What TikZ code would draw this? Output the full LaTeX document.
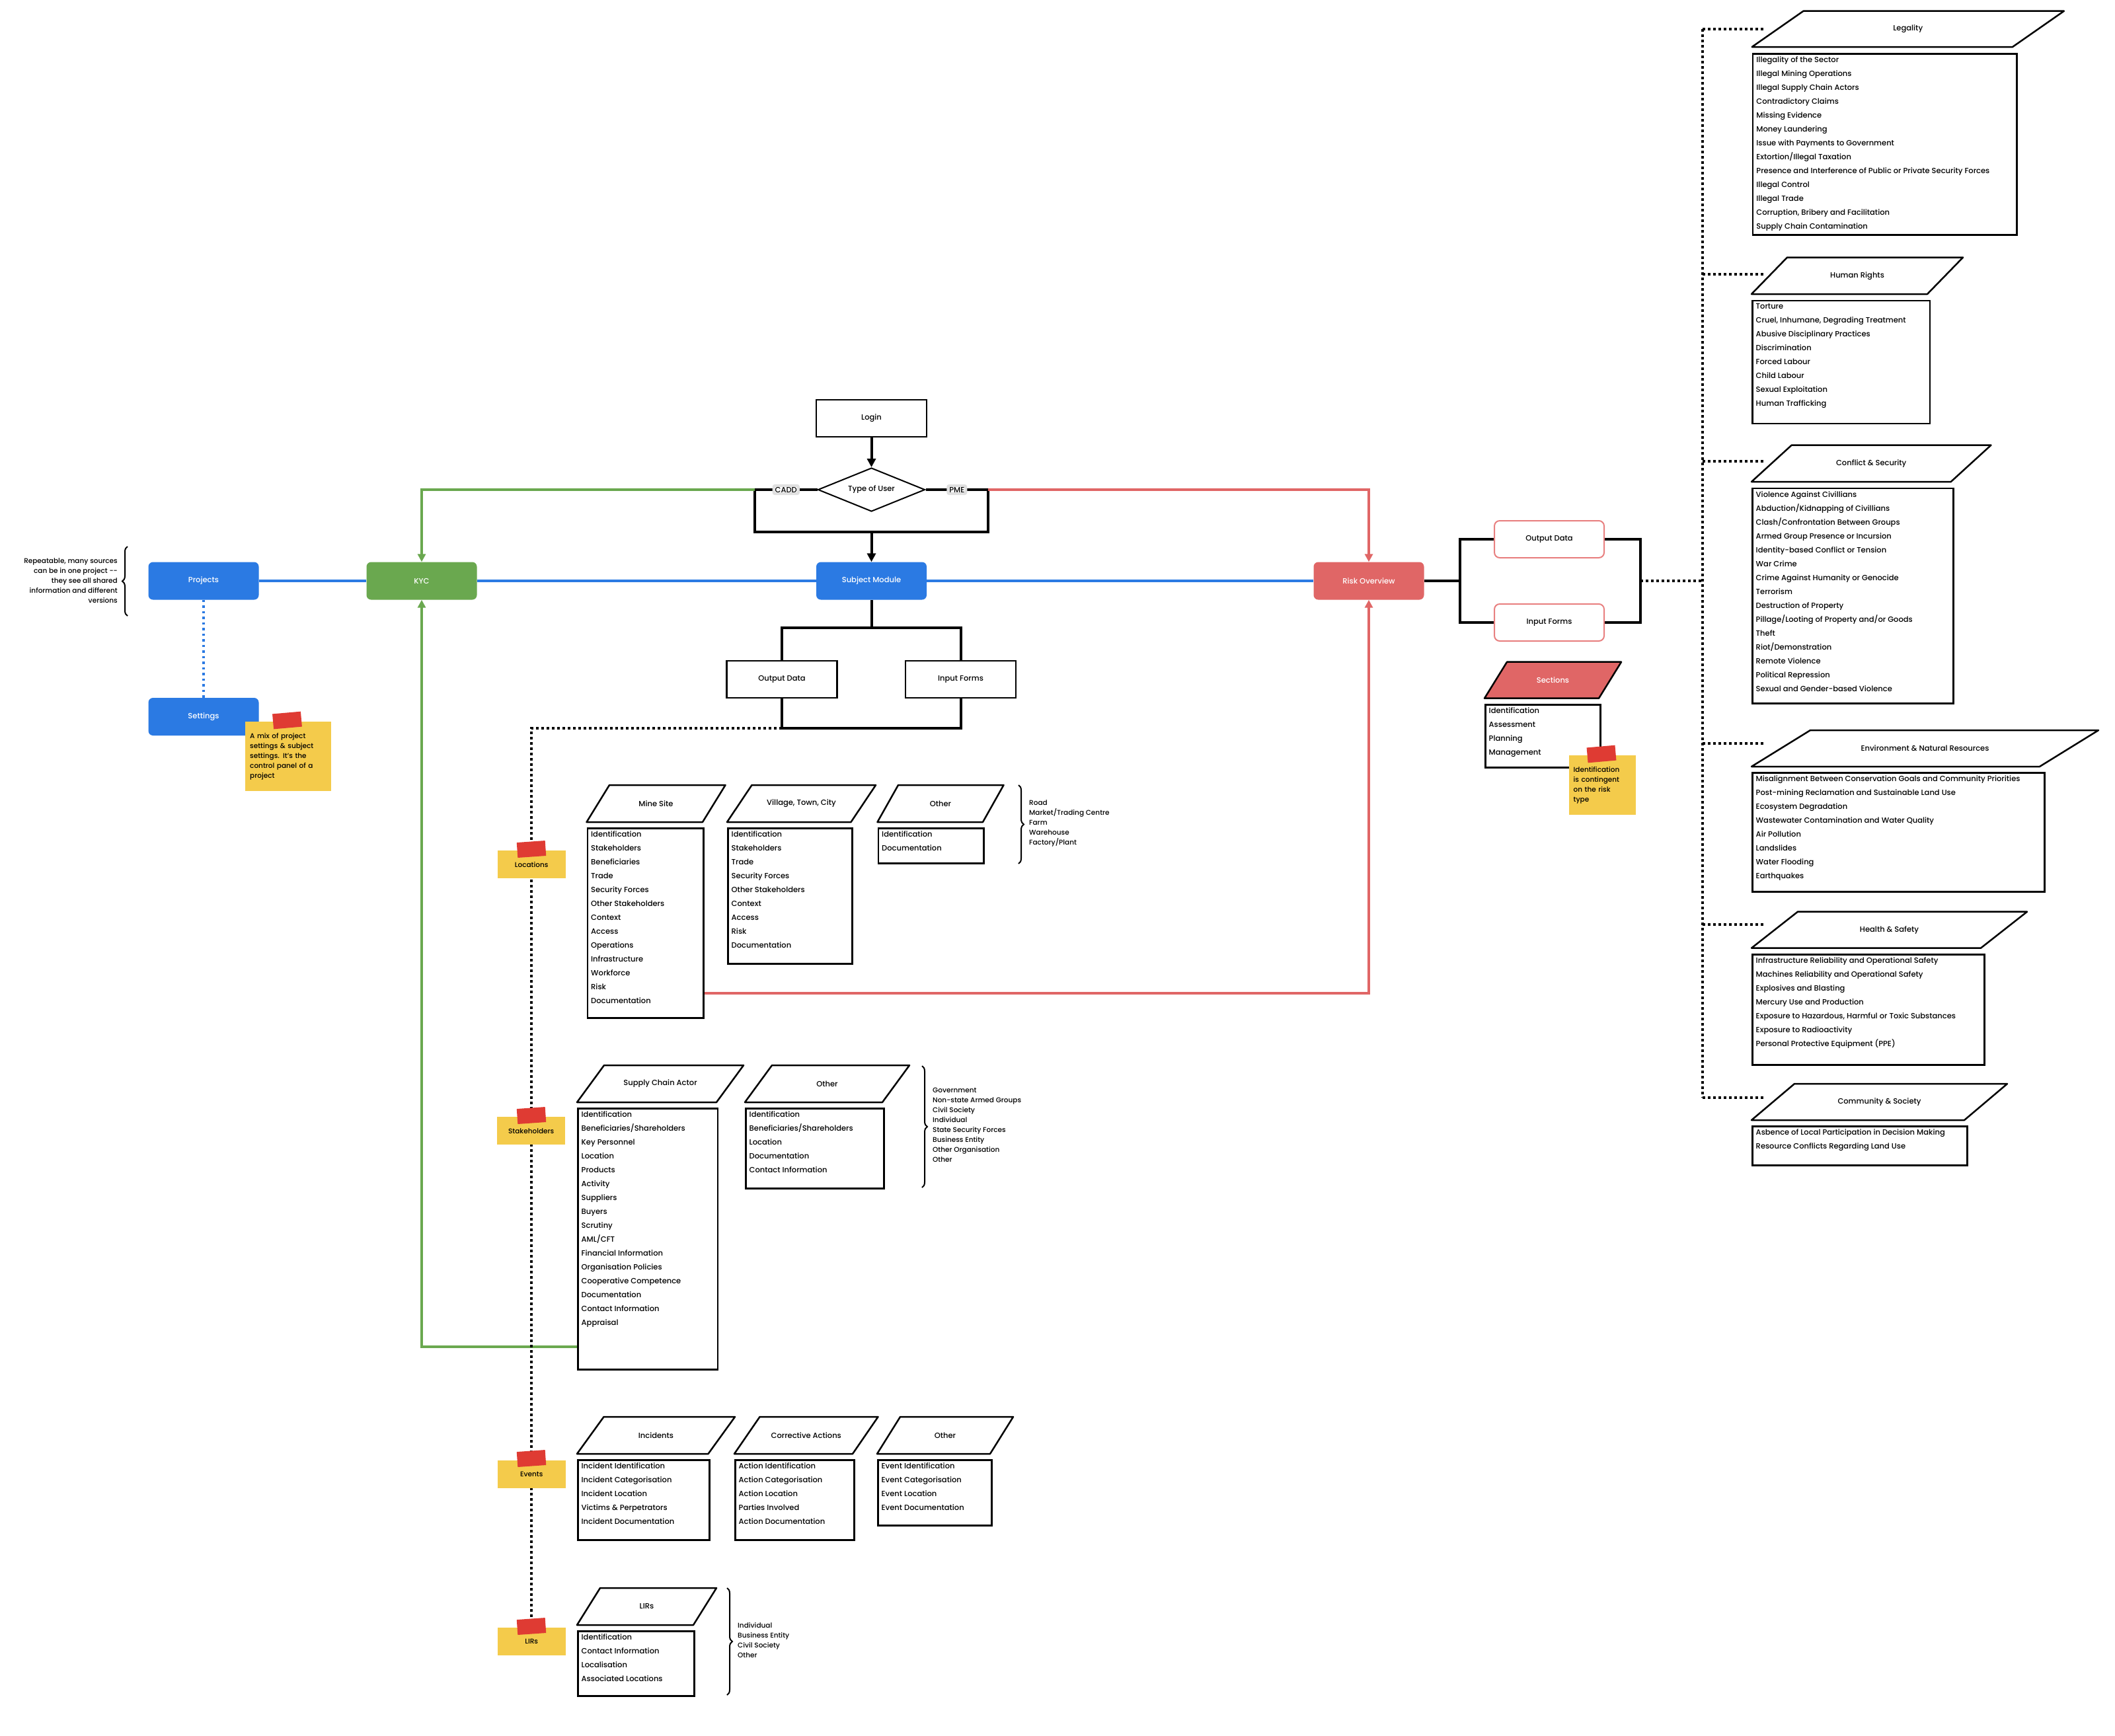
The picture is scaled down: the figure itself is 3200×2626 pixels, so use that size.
\documentclass[tikz,border=0pt]{standalone}
\usepackage{fontspec}
\setmainfont{Poppins}[UprightFont={* Medium}]
\usetikzlibrary{arrows.meta,shapes.geometric,decorations.pathreplacing,calc}
\pgfdeclarelayer{back}
\pgfdeclarelayer{bg}
\pgfsetlayers{back,bg,main}
\definecolor{cblue}{HTML}{2B7AE3}
\definecolor{cgreen}{HTML}{6AA84F}
\definecolor{cred}{HTML}{E06666}
\definecolor{credl}{HTML}{E88080}
\definecolor{cyel}{HTML}{F4CB4B}
\definecolor{ctape}{HTML}{DF3B33}
\tikzset{
 flow/.style={rounded corners=7pt, minimum width=167pt, minimum height=57pt, inner sep=0pt, font=\fontsize{11.5}{13}\selectfont, text=white},
 bluebox/.style={flow, fill=cblue},
 greenbox/.style={flow, fill=cgreen},
 redbox/.style={flow, fill=cred},
 plainbox/.style={draw, line width=2.5pt, fill=white, minimum width=167pt, minimum height=56pt, inner sep=0pt, font=\fontsize{11.5}{13}\selectfont},
 rbox/.style={draw=credl, line width=2pt, fill=white, rounded corners=8pt, minimum width=166pt, minimum height=56pt, inner sep=0pt, font=\fontsize{11.5}{13}\selectfont},
 decision/.style={diamond, draw, line width=2pt, fill=white, minimum width=162pt, minimum height=66pt, inner sep=0pt, aspect=2.45, font=\fontsize{11.5}{13}\selectfont},
 lbl/.style={fill=white, draw=black!12, rounded corners=2pt, inner sep=2pt, font=\fontsize{11.5}{13}\selectfont},
 boxline/.style={draw, line width=2.5pt, fill=white, inner sep=0pt, anchor=north west},
 listtext/.style={anchor=north west, inner sep=0pt, align=left, font=\fontsize{11.5}{21}\selectfont},
 paraline/.style={draw, line width=2.5pt, fill=white, line join=round},
 paratext/.style={inner sep=0pt, font=\fontsize{11.5}{13}\selectfont},
 sidetext/.style={anchor=north west, inner sep=0pt, align=left, font=\fontsize{10.5}{15}\selectfont},
 sticky/.style={fill=cyel, inner sep=7pt, anchor=north west, font=\fontsize{10.5}{15}\selectfont},
 smallnote/.style={fill=cyel, inner sep=0pt, anchor=north west, minimum width=103pt, minimum height=42pt, font=\fontsize{10.5}{13}\selectfont},
 tapestyle/.style={fill=ctape, minimum width=43pt, minimum height=23pt, inner sep=0pt},
 blk/.style={line width=4pt, draw=black},
 tipk/.style={-{Triangle[length=13pt,width=13pt]}},
 tipc/.style={-{Triangle[length=12pt,width=12pt]}},
 blueline/.style={line width=3.5pt, draw=cblue},
 gline/.style={line width=3.5pt, draw=cgreen},
 rline/.style={line width=3.5pt, draw=cred},
 dotblk/.style={line width=4pt, draw=black, dash pattern=on 4pt off 4pt},
 bdots/.style={line width=3.5pt, draw=cblue, dash pattern=on 3.5pt off 5pt},
 bracestyle/.style={decorate, decoration={brace, amplitude=8pt}, line width=2pt},
}
\newcommand\mkpara[7]{%
 \draw[paraline] (#2,#3) -- ++(#4,0) -- ++(#5,-#6) -- ++(-#4,0) -- cycle;
 \node[paratext] (#1) at ({#2+0.5*#4+0.5*#5},{#3-0.5*#6}) {#7};}
\newcommand\mklist[6]{%
 \node[boxline, minimum width={#4-#2}, minimum height={#5-#3}] (#1) at (#2,#3) {};
 \node[listtext] (#1t) at ($(#1.north west)+(6.5,5.5)$) {#6};}
\begin{document}
\begin{tikzpicture}[x=1pt,y=-1pt]
\begin{pgfonlayer}{back}
\fill[white] (0,0) rectangle (3200,2626);
\end{pgfonlayer}
\useasboundingbox (0,0) rectangle (3200,2626);

% ---------- main flow ----------
\node[bluebox] (proj) at (308,879) {Projects};
\node[greenbox] (kyc) at (638,879) {KYC};
\node[bluebox] (sett) at (308,1084.5) {Settings};
\node[bluebox] (sm) at (1318.5,879) {Subject Module};
\node[redbox] (ro) at (2071,879) {Risk Overview};
\node[plainbox] (login) at (1318.5,633) {Login};
\node[decision] (tou) at (1318.5,741) {Type of User};
\node[plainbox] (od1) at (1183,1028) {Output Data};
\node[plainbox] (if1) at (1453.5,1028) {Input Forms};
\node[rbox] (od2) at (2344,816) {Output Data};
\node[rbox] (if2) at (2344,942) {Input Forms};

% left annotation
\node[anchor=east, align=right, inner sep=0pt, font=\fontsize{10.5}{15}\selectfont] (annot) at (178,879)
 {Repeatable, many sources\\can be in one project {-}{-}\\they see all shared\\information and different\\versions};
\draw[bracestyle] (193,932) -- (193,827);

% settings note
\node[sticky, minimum width=130pt, minimum height=105pt, text width=116pt, align=left] (setnote) at (371,1092)
 {A mix of project\\settings \& subject\\settings. It's the\\control panel of a\\project};
\node[tapestyle, rotate=5] (settape) at (434.5,1090) {};

% ---------- locations ----------
\mkpara{pms}{887.5}{1244}{175.5}{34.5}{56}{Mine Site}
\mklist{lms}{887.5}{1252}{1063}{1539}{Identification\\Stakeholders\\Beneficiaries\\Trade\\Security Forces\\Other Stakeholders\\Context\\Access\\Operations\\Infrastructure\\Workforce\\Risk\\Documentation}
\mkpara{pvt}{1100}{1244}{187.5}{37.5}{56}{Village, Town, City}
\mklist{lvt}{1100}{1252}{1288}{1457}{Identification\\Stakeholders\\Trade\\Security Forces\\Other Stakeholders\\Context\\Access\\Risk\\Documentation}
\mkpara{pol}{1327.5}{1244}{159.5}{31.5}{56}{Other}
\mklist{lol}{1327.5}{1252}{1487}{1305}{Identification\\Documentation}
\node[sidetext] (locside) at (1557,1211) {Road\\Market/Trading Centre\\Farm\\Warehouse\\Factory/Plant};
\draw[bracestyle] (1541,1188) -- (1541,1307);

% ---------- stakeholders ----------
\mkpara{psc}{873}{1668}{211}{41}{56}{Supply Chain Actor}
\mklist{lsc}{873}{1676}{1084.5}{2071}{Identification\\Beneficiaries/Shareholders\\Key Personnel\\Location\\Products\\Activity\\Suppliers\\Buyers\\Scrutiny\\AML/CFT\\Financial Information\\Organisation Policies\\Cooperative Competence\\Documentation\\Contact Information\\Appraisal}
\mkpara{pos}{1127}{1668}{208}{41}{56}{Other}
\mklist{los}{1127}{1676}{1336}{1797}{Identification\\Beneficiaries/Shareholders\\Location\\Documentation\\Contact Information}
\node[sidetext] (stkside) at (1411,1646) {Government\\Non-state Armed Groups\\Civil Society\\Individual\\State Security Forces\\Business Entity\\Other Organisation\\Other};
\draw[bracestyle] (1395,1613) -- (1395,1797);

% ---------- events ----------
\mkpara{pin}{873}{2200}{198.5}{40.5}{56}{Incidents}
\mklist{lin}{873}{2208}{1072}{2329}{Incident Identification\\Incident Categorisation\\Incident Location\\Victims \& Perpetrators\\Incident Documentation}
\mkpara{pca}{1111}{2200}{179}{38.5}{56}{Corrective Actions}
\mklist{lca}{1111}{2208}{1291}{2329}{Action Identification\\Action Categorisation\\Action Location\\Parties Involved\\Action Documentation}
\mkpara{poe}{1327}{2200}{171}{35}{56}{Other}
\mklist{loe}{1327}{2208}{1499}{2307}{Event Identification\\Event Categorisation\\Event Location\\Event Documentation}

% ---------- LIRs ----------
\mkpara{pli}{873}{2459}{176}{35}{56}{LIRs}
\mklist{lli}{873}{2467}{1049}{2565}{Identification\\Contact Information\\Localisation\\Associated Locations}
\node[sidetext] (lirside) at (1116,2455.5) {Individual\\Business Entity\\Civil Society\\Other};
\draw[bracestyle] (1100,2403) -- (1100,2565);

% ---------- notes on the dotted spine ----------
\node[smallnote] (locnote) at (752.5,1287) {Locations};
\node[tapestyle, rotate=4] (loctape) at (804,1285) {};
\node[smallnote] (stknote) at (752,1690) {Stakeholders};
\node[tapestyle, rotate=4] (stktape) at (804,1688) {};
\node[smallnote] (evtnote) at (752.5,2210) {Events};
\node[tapestyle, rotate=4] (evttape) at (804,2207) {};
\node[smallnote] (lirnote) at (752.5,2463) {LIRs};
\node[tapestyle, rotate=4] (lirtape) at (804,2461) {};

% ---------- sections ----------
\draw[paraline, fill=cred] (2246,1056.7) -- ++(173,0) -- ++(34,-55) -- ++(-173,0) -- cycle;
\node[paratext, text=white] (sect) at (2349.5,1029) {Sections};
\mklist{lsec}{2246}{1065}{2420}{1160}{Identification\\Assessment\\Planning\\Management}
\node[sticky, minimum width=101pt, minimum height=90pt, text width=87pt, align=left] (secnote) at (2373.4,1143)
 {Identification\\is contingent\\on the risk\\type};
\node[tapestyle, rotate=5] (sectape) at (2423,1141) {};

% ---------- risk categories ----------
\mkpara{pleg}{2650.7}{71}{394.3}{77.8}{54.3}{Legality}
\mklist{lleg}{2650.7}{80}{3050}{354}{Illegality of the Sector\\Illegal Mining Operations\\Illegal Supply Chain Actors\\Contradictory Claims\\Missing Evidence\\Money Laundering\\Issue with Payments to Government\\Extortion/Illegal Taxation\\Presence and Interference of Public or Private Security Forces\\Illegal Control\\Illegal Trade\\Corruption, Bribery and Facilitation\\Supply Chain Contamination}
\mkpara{phr}{2650}{445}{266}{54}{55.5}{Human Rights}
\mklist{lhr}{2650}{453.7}{2918.5}{639.8}{Torture\\Cruel, Inhumane, Degrading Treatment\\Abusive Disciplinary Practices\\Discrimination\\Forced Labour\\Child Labour\\Sexual Exploitation\\Human Trafficking}
\mkpara{pcs}{2650}{729}{301.7}{60.7}{55.4}{Conflict \& Security}
\mklist{lcs}{2650}{737.8}{2954}{1063}{Violence Against Civillians\\Abduction/Kidnapping of Civillians\\Clash/Confrontation Between Groups\\Armed Group Presence or Incursion\\Identity-based Conflict or Tension\\War Crime\\Crime Against Humanity or Genocide\\Terrorism\\Destruction of Property\\Pillage/Looting of Property and/or Goods\\Theft\\Riot/Demonstration\\Remote Violence\\Political Repression\\Sexual and Gender-based Violence}
\mkpara{pen}{2650}{1160}{436}{89}{55}{Environment \& Natural Resources}
\mklist{len}{2650}{1168}{3092}{1348}{Misalignment Between Conservation Goals and Community Priorities\\Post-mining Reclamation and Sustainable Land Use\\Ecosystem Degradation\\Wastewater Contamination and Water Quality\\Air Pollution\\Landslides\\Water Flooding\\Earthquakes}
\mkpara{phs}{2650}{1434.6}{347}{70}{55}{Health \& Safety}
\mklist{lhs}{2650}{1443}{3001}{1610}{Infrastructure Reliability and Operational Safety\\Machines Reliability and Operational Safety\\Explosives and Blasting\\Mercury Use and Production\\Exposure to Hazardous, Harmful or Toxic Substances\\Exposure to Radioactivity\\Personal Protective Equipment (PPE)}
\mkpara{pcm}{2650}{1695}{322}{65}{55}{Community \& Society}
\mklist{lcm}{2650}{1703}{2975}{1762}{Asbence of Local Participation in Decision Making\\Resource Conflicts Regarding Land Use}

% ---------- coordinates ----------
\coordinate (bL) at (1142,741);
\coordinate (bLB) at (1142,805);
\coordinate (bRB) at (1495,805);
\coordinate (bR) at (1495,741);
\coordinate (bB) at (1318.5,805);
\coordinate (smb) at (1318.5,951);
\coordinate (dotc) at (1183,1102);
\coordinate (gy) at (0,2038);
\coordinate (ry) at (0,1503);
\coordinate (rbl) at (2209,879);
\coordinate (rbt) at (2209,816);
\coordinate (rbb) at (2209,942);
\coordinate (rrt) at (2482,816);
\coordinate (rrb) at (2482,942);
\coordinate (rbr) at (2482,879);
\coordinate (dv) at (2576,879);
\coordinate (dvtop) at (2576,44);
\coordinate (dvbot) at (2576,1660.5);
\coordinate (s1) at (2669,44);
\coordinate (s2a) at (2576,414.7);
\coordinate (s2) at (2669,414.7);
\coordinate (s3a) at (2576,697.5);
\coordinate (s3) at (2669,697.5);
\coordinate (s4a) at (2576,1124.8);
\coordinate (s4) at (2669,1124.8);
\coordinate (s5a) at (2576,1399);
\coordinate (s5) at (2669,1399);
\coordinate (s6) at (2669,1660.5);

% ---------- connectors ----------
\begin{pgfonlayer}{bg}
\draw[blueline] (proj.east) -- (kyc.west);
\draw[blueline] (kyc.east) -- (sm.west);
\draw[blueline] (sm.east) -- (ro.west);
\draw[bdots] (proj.south) -- (sett.north);
\draw[blk, tipk] (login.south) -- (tou.north);
\draw[blk] (tou.west) -- node[lbl]{CADD} (bL) -- (bLB) -- (bRB) -- (bR) -- node[lbl]{PME} (tou.east);
\draw[blk, tipk] (bB) -- (sm.north);
\draw[gline, tipc] (bL) -| (kyc.north);
\draw[rline, tipc] (bR) -| (ro.north);
\draw[gline, tipc] (lsc.west |- gy) -| (kyc.south);
\draw[rline, tipc] (lms.east |- ry) -| (ro.south);
\draw[blk] (sm.south) -- (smb);
\draw[blk] (od1.north) -- ++(0,-49) -| (if1.north);
\draw[blk] (od1.south) -- (dotc) -| (if1.south);
\draw[dotblk] (dotc) -| (lirnote.north);
\draw[blk] (ro.east) -- (rbl);
\draw[blk] (od2.west) -- (rbt) -- (rbb) -- (if2.west);
\draw[blk] (od2.east) -- (rrt) -- (rrb) -- (if2.east);
\draw[dotblk] (rbr) -- (dv);
\draw[dotblk] (dvtop) -- (dvbot);
\draw[dotblk] (dvtop) -- (s1);
\draw[dotblk] (s2a) -- (s2);
\draw[dotblk] (s3a) -- (s3);
\draw[dotblk] (s4a) -- (s4);
\draw[dotblk] (s5a) -- (s5);
\draw[dotblk] (dvbot) -- (s6);
\end{pgfonlayer}
\end{tikzpicture}
\end{document}
